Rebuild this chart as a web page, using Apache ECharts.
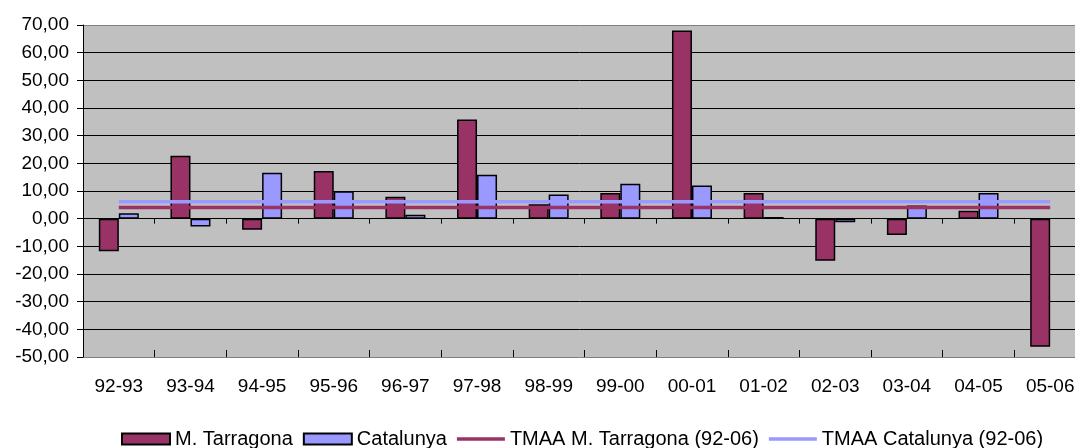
<!DOCTYPE html>
<html>
<head>
<meta charset="utf-8">
<script src="https://cdn.jsdelivr.net/npm/echarts@6/dist/echarts.min.js"></script>
<style>html,body{margin:0;padding:0;background:#fff}#c{width:1075px;height:448px}</style>
</head>
<body>
<div id="c"></div>
<script>
var categories = ['92-93','93-94','94-95','95-96','96-97','97-98','98-99','99-00','00-01','01-02','02-03','03-04','04-05','05-06'];
var tarragona = [-11.8, 22.7, -4.0, 17.2, 7.9, 35.8, 5.2, 9.3, 68.0, 9.3, -15.2, -5.9, 2.9, -46.3];
var catalunya = [2.0, -2.8, 16.6, 9.9, 1.4, 15.9, 8.7, 12.6, 12.0, 0.6, -1.3, 4.8, 9.3, null];
var tmaaTarragona = [4.0, 4.0, 4.0, 4.0, 4.0, 4.0, 4.0, 4.0, 4.0, 4.0, 4.0, 4.0, 4.0, 4.0];
var tmaaCatalunya = [6.1, 6.1, 6.1, 6.1, 6.1, 6.1, 6.1, 6.1, 6.1, 6.1, 6.1, 6.1, 6.1, 6.1];
var seriesNames = ['M. Tarragona', 'Catalunya', 'TMAA M. Tarragona (92-06)', 'TMAA Catalunya (92-06)'];

var FONT = "'Liberation Sans', Arial, sans-serif";
var gridColors = ['#808080','#000','#000','#000','#000','#000','#000','#000','#000','#000','#000','#000','#808080'];
var lineIcon = 'path://M0,0L50,0L50,3.5L0,3.5Z';

var chart = echarts.init(document.getElementById('c'), null, {renderer: 'canvas'});
chart.setOption({
  animation: false,
  backgroundColor: '#ffffff',
  textStyle: {fontFamily: FONT, color: '#000'},
  grid: {
    left: 83, right: -11, top: 25, bottom: 91,
    show: true, backgroundColor: '#C0C0C0', borderWidth: 0,
    containLabel: false, outerBoundsMode: 'none'
  },
  legend: {
    left: 116, top: 424,
    itemWidth: 48, itemHeight: 11, itemGap: 10,
    textStyle: {fontFamily: FONT, fontSize: 20, color: '#000'},
    data: [
      {name: seriesNames[0], icon: 'rect'},
      {name: seriesNames[1], icon: 'rect'},
      {name: seriesNames[2], icon: lineIcon},
      {name: seriesNames[3], icon: lineIcon}
    ]
  },
  xAxis: [
    {
      type: 'category', data: categories, position: 'bottom',
      axisLine: {show: false, onZero: false},
      axisTick: {show: false},
      axisLabel: {fontFamily: FONT, fontSize: 19, color: '#000', margin: 20},
      splitLine: {show: false}
    },
    {
      type: 'category', data: categories, position: 'bottom',
      axisLine: {show: true, onZero: true, lineStyle: {color: '#000', width: 1}},
      axisTick: {show: true, inside: false, length: 5, lineStyle: {color: '#000', width: 1}},
      axisLabel: {show: false},
      splitLine: {show: false}
    },
    {
      type: 'category', data: categories, position: 'bottom',
      axisLine: {show: false, onZero: true},
      axisTick: {show: true, inside: true, length: 7, lineStyle: {color: '#000', width: 1}},
      axisLabel: {show: false},
      splitLine: {show: false}
    }
  ],
  yAxis: {
    type: 'value', min: -50, max: 70, interval: 10,
    axisLine: {show: true, lineStyle: {color: '#000', width: 1}},
    axisTick: {show: true, length: 6, lineStyle: {color: '#000'}},
    axisLabel: {
      fontFamily: FONT, fontSize: 19, color: '#000', margin: 14,
      formatter: function (v) { return v.toFixed(2).replace('.', ','); }
    },
    splitLine: {show: true, lineStyle: {color: gridColors, width: 1}}
  },
  series: [
    {
      name: seriesNames[0], type: 'bar', data: tarragona, xAxisIndex: 0,
      barWidth: 20, barGap: '0%',
      itemStyle: {color: '#993366', borderColor: '#000', borderWidth: 1.5}
    },
    {
      name: seriesNames[1], type: 'bar', data: catalunya, xAxisIndex: 0,
      barWidth: 20, barGap: '0%',
      itemStyle: {color: '#9999FF', borderColor: '#000', borderWidth: 1.5}
    },
    {
      name: seriesNames[2], type: 'line', data: tmaaTarragona, xAxisIndex: 0,
      symbol: 'none', showSymbol: false, z: 5,
      lineStyle: {color: '#993366', width: 3.5},
      itemStyle: {color: '#993366'}
    },
    {
      name: seriesNames[3], type: 'line', data: tmaaCatalunya, xAxisIndex: 0,
      symbol: 'none', showSymbol: false, z: 5,
      lineStyle: {color: '#9999FF', width: 3.5},
      itemStyle: {color: '#9999FF'}
    }
  ]
});
</script>
</body>
</html>
